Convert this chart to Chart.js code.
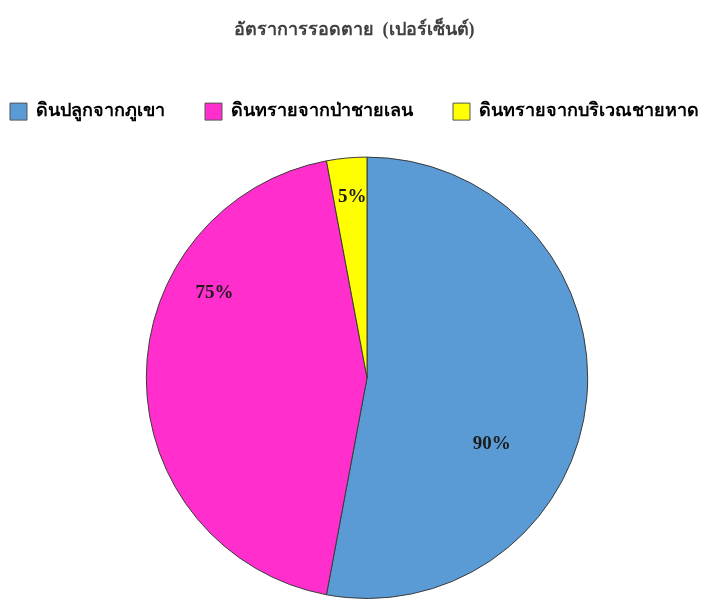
<!DOCTYPE html>
<html>
<head>
<meta charset="utf-8">
<script src="https://cdn.jsdelivr.net/npm/chart.js@4.4.1/dist/chart.umd.min.js"></script>
<style>
  html, body { margin: 0; padding: 0; background: #fff; }
  #wrap { width: 708px; height: 599px; }
</style>
</head>
<body>
<div id="wrap"><canvas id="chart" width="708" height="599"></canvas></div>
<script>
const titleText = "อัตราการรอดตาย  (เปอร์เซ็นต์)";
const categories = ["ดินปลูกจากภูเขา", "ดินทรายจากป่าชายเลน", "ดินทรายจากบริเวณชายหาด"];
const survival = [90, 75, 5];
const sliceColors = ["#5B9BD5", "#FF2ECC", "#FFFF00"];

const fontFamily = "'Liberation Serif', 'Times New Roman', serif";

// label placement (angle from top in degrees, fraction of radius), like Excel's best-fit
const labelPlace = [
  { angle: 118, dist: 0.64 },
  { angle: 299, dist: 0.79 },
  { angle: 355.3, dist: 0.82 }
];

const pctLabels = {
  id: "pctLabels",
  afterDatasetsDraw(chart) {
    const ctx = chart.ctx;
    const meta = chart.getDatasetMeta(0);
    ctx.save();
    ctx.font = "bold 19px " + fontFamily;
    ctx.fillStyle = "#1c1c1c";
    ctx.textAlign = "center";
    ctx.textBaseline = "middle";
    meta.data.forEach((arc, i) => {
      const p = labelPlace[i];
      const a = (p.angle - 90) * Math.PI / 180;
      const r = arc.outerRadius * p.dist;
      ctx.fillText(survival[i] + "%", arc.x + Math.cos(a) * r, arc.y + Math.sin(a) * r);
    });
    ctx.restore();
  }
};

// legend: keep on one line, room underneath; pie nudged right
const layoutTweaks = {
  id: "layoutTweaks",
  beforeInit(chart) {
    const fit = chart.legend.fit;
    chart.legend.fit = function () {
      const mw = this.maxWidth;
      this.maxWidth = mw + 140;
      fit.call(this);
      this.maxWidth = mw;
      this.width = mw;
      this.height += 26;
    };
  },
  afterLayout(chart) {
    chart.legend.left -= 30;
    chart.legend.right += 80;
    const ca = chart.chartArea;
    ca.left += 26;
    ca.width = ca.right - ca.left;
  }
};

new Chart(document.getElementById("chart"), {
  type: "pie",
  data: {
    labels: categories,
    datasets: [{
      data: survival,
      backgroundColor: sliceColors,
      borderColor: "#3a3a3a",
      borderWidth: 1
    }]
  },
  options: {
    responsive: false,
    animation: false,
    layout: { padding: 0 },
    plugins: {
      title: {
        display: true,
        text: titleText,
        color: "#404040",
        font: { family: fontFamily, size: 18, weight: "bold" },
        padding: { top: 20, bottom: 21 }
      },
      legend: {
        position: "top",
        align: "start",
        labels: {
          color: "#333",
          font: { family: fontFamily, size: 18, weight: "bold" },
          boxWidth: 17,
          boxHeight: 17,
          padding: 40,
          generateLabels(chart) {
            return categories.map((c, i) => ({
              text: c,
              fillStyle: sliceColors[i],
              strokeStyle: "#555",
              lineWidth: 1,
              index: i
            }));
          }
        }
      },
      tooltip: { enabled: false }
    }
  },
  plugins: [pctLabels, layoutTweaks]
});
</script>
</body>
</html>
